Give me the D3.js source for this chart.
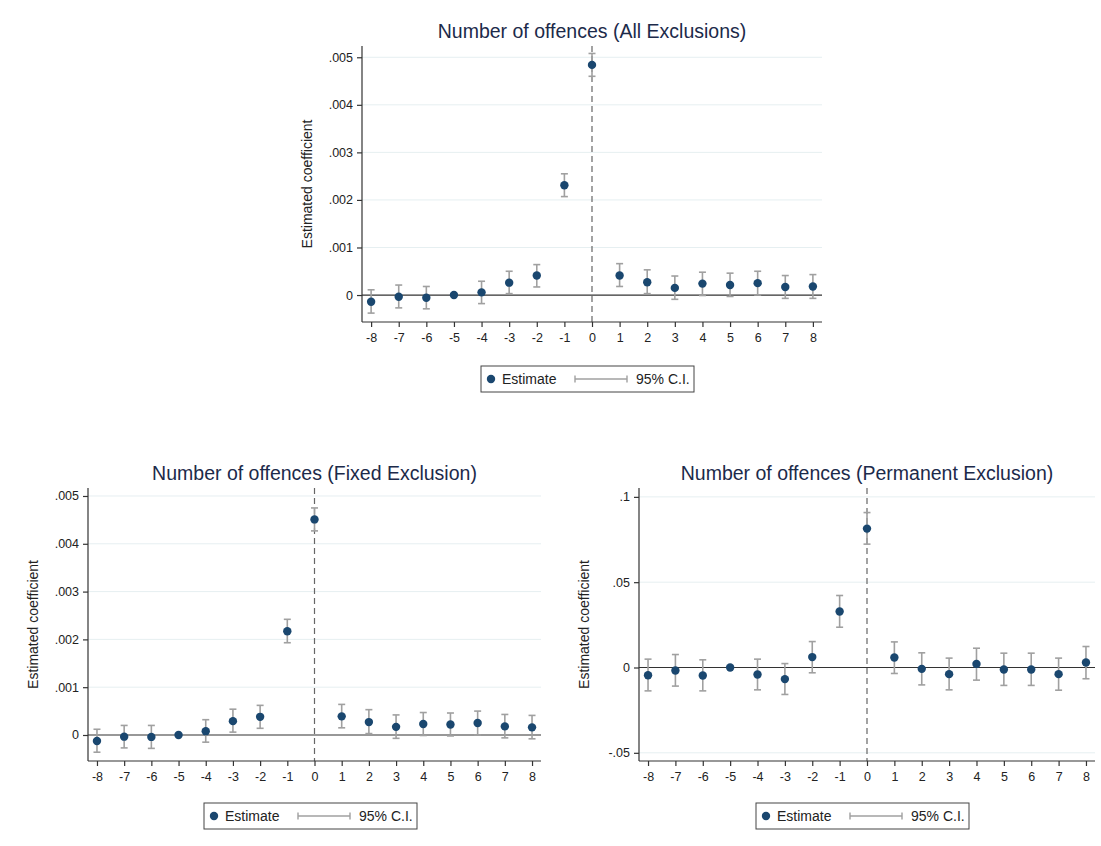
<!DOCTYPE html>
<html>
<head>
<meta charset="utf-8">
<script src="https://cdn.jsdelivr.net/npm/d3@7"></script>
<style>
body { margin: 0; background: #ffffff; }
svg { display: block; font-family: "Liberation Sans", Arial, sans-serif; }
.title { font-size: 19.5px; fill: #1c2a4a; }
.axisLabel { font-size: 14px; fill: #222222; }
.tick text { font-size: 12.5px; fill: #222222; }
.legendText { font-size: 14px; fill: #222222; }
</style>
</head>
<body>
<svg id="chart" width="1101" height="846"></svg>
<script>
// event time periods
var periods = [-8, -7, -6, -5, -4, -3, -2, -1, 0, 1, 2, 3, 4, 5, 6, 7, 8];

// all exclusions
var allEst = [-0.00014, -0.000035, -0.000056, 0, 0.000056, 0.00026, 0.00041, 0.00231, 0.00484, 0.00041, 0.00027, 0.00015, 0.00024, 0.00021, 0.00025, 0.00017, 0.00018];
var allLo  = [-0.00038, -0.00027, -0.00029, null, -0.00018, 0.00003, 0.00017, 0.00207, 0.00460, 0.00018, 0.00003, -0.00009, -0.00001, -0.00003, 0.0, -0.00007, -0.00007];
var allHi  = [0.00011, 0.00021, 0.00018, null, 0.00029, 0.00050, 0.00064, 0.00255, 0.00508, 0.00066, 0.00053, 0.00040, 0.00048, 0.00046, 0.00050, 0.00041, 0.00043];

// fixed exclusion
var fixedEst = [-0.000126, -0.000035, -0.00004, 0, 0.00008, 0.00029, 0.00038, 0.00217, 0.00451, 0.00039, 0.00027, 0.00017, 0.00023, 0.00022, 0.00025, 0.00018, 0.00016];
var fixedLo  = [-0.00036, -0.00027, -0.00028, null, -0.00015, 0.00006, 0.00014, 0.00193, 0.00427, 0.00015, 0.00003, -0.00007, -0.00001, -0.00002, 0.0, -0.00006, -0.00008];
var fixedHi  = [0.00012, 0.00020, 0.00020, null, 0.00032, 0.00054, 0.00062, 0.00242, 0.00475, 0.00064, 0.00053, 0.00042, 0.00047, 0.00046, 0.00050, 0.00043, 0.00041];

// permanent exclusion
var permEst = [-0.0045, -0.0018, -0.0047, 0, -0.0041, -0.0068, 0.0061, 0.0328, 0.0814, 0.0059, -0.0008, -0.0039, 0.0021, -0.0012, -0.0012, -0.0039, 0.0029];
var permLo  = [-0.0137, -0.0109, -0.0137, null, -0.0131, -0.0158, -0.0031, 0.0236, 0.0723, -0.0035, -0.0102, -0.0131, -0.0074, -0.0105, -0.0105, -0.0133, -0.0066];
var permHi  = [0.0049, 0.0076, 0.0045, null, 0.0049, 0.0023, 0.0152, 0.0422, 0.0908, 0.0150, 0.0086, 0.0055, 0.0113, 0.0084, 0.0084, 0.0055, 0.0123];

// tick labels
var periodLabels = ["-8", "-7", "-6", "-5", "-4", "-3", "-2", "-1", "0", "1", "2", "3", "4", "5", "6", "7", "8"];
var smallTicks = [0, 0.001, 0.002, 0.003, 0.004, 0.005];
var smallTickLabels = ["0", ".001", ".002", ".003", ".004", ".005"];
var permTicks = [-0.05, 0, 0.05, 0.1];
var permTickLabels = ["-.05", "0", ".05", ".1"];

var MARKER_COLOR = "#1a476f";
var CI_COLOR = "#a0a0a0";
var AXIS_COLOR = "#333333";
var GRID_COLOR = "#e6eff1";

var svg = d3.select("#chart");

function drawPanel(p) {
	var g = svg.append("g");

	var x = d3.scaleLinear()
		.domain([-8.33, 8.33])
		.range([p.left, p.right]);
	var y = d3.scaleLinear()
		.domain(p.yDomain)
		.range([p.bottom, p.top]);

	//gridlines
	g.selectAll(".grid")
		.data(p.ticks.filter(function(d) { return d != 0; }))
		.enter()
		.append("line")
		.attr("x1", p.left)
		.attr("x2", p.right)
		.attr("y1", function(d) { return y(d); })
		.attr("y2", function(d) { return y(d); })
		.attr("stroke", GRID_COLOR)
		.attr("stroke-width", 1);

	//zero line
	g.append("line")
		.attr("x1", p.left)
		.attr("x2", p.right)
		.attr("y1", y(0))
		.attr("y2", y(0))
		.attr("stroke", AXIS_COLOR)
		.attr("stroke-width", 1.2);

	//dashed line at event time 0
	g.append("line")
		.attr("x1", x(0))
		.attr("x2", x(0))
		.attr("y1", p.top)
		.attr("y2", p.bottom)
		.attr("stroke", "#666666")
		.attr("stroke-width", 1.2)
		.attr("stroke-dasharray", "6,4");

	//axes
	var xAxis = d3.axisBottom(x)
		.tickValues(periods)
		.tickSize(5)
		.tickPadding(6)
		.tickSizeOuter(0)
		.tickFormat(function(d, i) { return periodLabels[i]; });
	var xg = g.append("g")
		.attr("transform", "translate(0," + p.bottom + ")")
		.call(xAxis);

	var yAxis = d3.axisLeft(y)
		.tickValues(p.ticks)
		.tickSize(5)
		.tickPadding(4)
		.tickSizeOuter(0)
		.tickFormat(function(d, i) { return p.tickLabels[i]; });
	var yg = g.append("g")
		.attr("transform", "translate(" + p.left + ",0)")
		.call(yAxis);

	[xg, yg].forEach(function(a) {
		a.selectAll("path, line").attr("stroke", AXIS_COLOR).attr("stroke-width", 1.2);
		a.selectAll("text").attr("font-family", null).attr("font-size", null);
	});
	xg.select(".domain").attr("d", "M" + p.left + ",0H" + p.right);
	yg.select(".domain").attr("d", "M0," + p.bottom + "V" + p.top);

	//confidence intervals
	var ciData = periods.map(function(t, i) {
		return {t: t, lo: p.lo[i], hi: p.hi[i], est: p.est[i]};
	});
	var ci = g.selectAll(".ci")
		.data(ciData.filter(function(d) { return d.lo != null; }))
		.enter()
		.append("g")
		.attr("class", "ci");
	ci.append("line")
		.attr("x1", function(d) { return x(d.t); })
		.attr("x2", function(d) { return x(d.t); })
		.attr("y1", function(d) { return y(d.lo); })
		.attr("y2", function(d) { return y(d.hi); })
		.attr("stroke", CI_COLOR)
		.attr("stroke-width", 1.6);
	ci.append("line")
		.attr("x1", function(d) { return x(d.t) - 3.5; })
		.attr("x2", function(d) { return x(d.t) + 3.5; })
		.attr("y1", function(d) { return y(d.lo); })
		.attr("y2", function(d) { return y(d.lo); })
		.attr("stroke", CI_COLOR)
		.attr("stroke-width", 1.6);
	ci.append("line")
		.attr("x1", function(d) { return x(d.t) - 3.5; })
		.attr("x2", function(d) { return x(d.t) + 3.5; })
		.attr("y1", function(d) { return y(d.hi); })
		.attr("y2", function(d) { return y(d.hi); })
		.attr("stroke", CI_COLOR)
		.attr("stroke-width", 1.6);

	//point estimates
	g.selectAll(".est")
		.data(ciData)
		.enter()
		.append("circle")
		.attr("cx", function(d) { return x(d.t); })
		.attr("cy", function(d) { return y(d.est); })
		.attr("r", 4.2)
		.attr("fill", MARKER_COLOR);

	//title
	var cx = (p.left + p.right) / 2;
	g.append("text")
		.attr("class", "title")
		.attr("x", cx)
		.attr("y", p.top - 8)
		.attr("text-anchor", "middle")
		.text(p.title);

	//y axis label
	g.append("text")
		.attr("class", "axisLabel")
		.attr("transform", "translate(" + (p.left - 50) + "," + ((p.top + p.bottom) / 2) + ") rotate(-90)")
		.attr("text-anchor", "middle")
		.text("Estimated coefficient");

	//legend
	var lx = p.legendX, ly = p.legendY;
	var legend = g.append("g")
		.attr("transform", "translate(" + lx + "," + ly + ")");
	legend.append("rect")
		.attr("width", 213)
		.attr("height", 26)
		.attr("fill", "#ffffff")
		.attr("stroke", "#444444")
		.attr("stroke-width", 1);
	legend.append("circle")
		.attr("cx", 10)
		.attr("cy", 13)
		.attr("r", 4.2)
		.attr("fill", MARKER_COLOR);
	legend.append("text")
		.attr("class", "legendText")
		.attr("x", 21)
		.attr("y", 18)
		.text("Estimate");
	legend.append("line")
		.attr("x1", 94).attr("x2", 146)
		.attr("y1", 13).attr("y2", 13)
		.attr("stroke", CI_COLOR).attr("stroke-width", 1.4);
	[94, 146].forEach(function(ex) {
		legend.append("line")
			.attr("x1", ex).attr("x2", ex)
			.attr("y1", 9.5).attr("y2", 16.5)
			.attr("stroke", CI_COLOR).attr("stroke-width", 1.4);
	});
	legend.append("text")
		.attr("class", "legendText")
		.attr("x", 155)
		.attr("y", 18)
		.text("95% C.I.");
}

drawPanel({
	title: "Number of offences (All Exclusions)",
	left: 362, right: 822, top: 46, bottom: 322,
	yDomain: [-0.000567, 0.005237],
	ticks: smallTicks, tickLabels: smallTickLabels,
	est: allEst, lo: allLo, hi: allHi,
	legendX: 481, legendY: 366
});

drawPanel({
	title: "Number of offences (Fixed Exclusion)",
	left: 88, right: 541, top: 488, bottom: 761,
	yDomain: [-0.000544, 0.005167],
	ticks: smallTicks, tickLabels: smallTickLabels,
	est: fixedEst, lo: fixedLo, hi: fixedHi,
	legendX: 204, legendY: 803
});

drawPanel({
	title: "Number of offences (Permanent Exclusion)",
	left: 639, right: 1095, top: 488, bottom: 761,
	yDomain: [-0.0548, 0.1052],
	ticks: permTicks, tickLabels: permTickLabels,
	est: permEst, lo: permLo, hi: permHi,
	legendX: 756, legendY: 803
});
</script>
</body>
</html>
